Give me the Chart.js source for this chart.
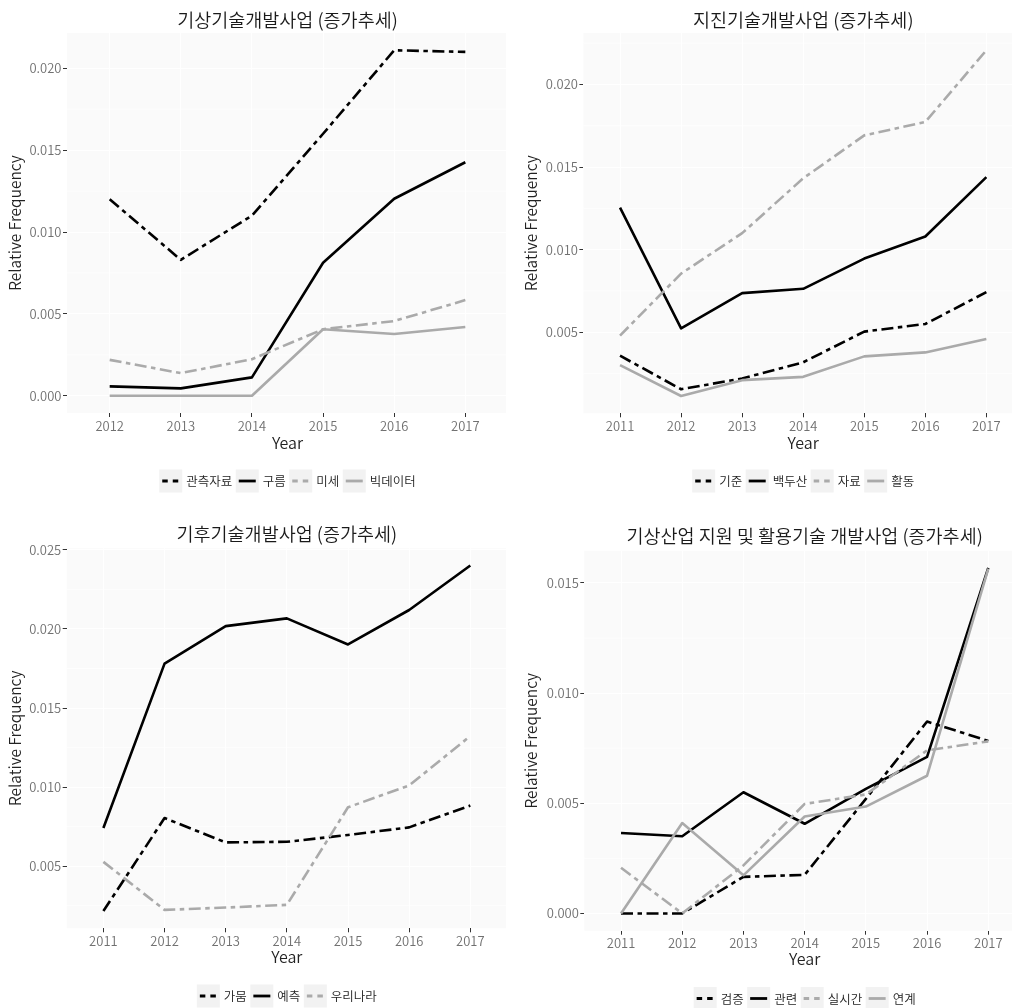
<!DOCTYPE html>
<html>
<head>
<meta charset="utf-8">
<script src="https://cdn.jsdelivr.net/npm/chart.js@4.4.1/dist/chart.umd.min.js"></script>
<style>
  html, body { margin: 0; padding: 0; background: #ffffff; }
  #page { position: relative; width: 1012px; height: 1008px; overflow: hidden; background: #ffffff; }
  .cell { position: absolute; width: 506px; height: 504px; overflow: hidden; }
  .cell canvas { position: absolute; left: 0; top: 0; }
</style>
</head>
<body>
<div id="page">
  <div class="cell" style="left:0px;top:0px"><canvas id="c1" width="508" height="504"></canvas></div>
  <div class="cell" style="left:506px;top:0px"><canvas id="c2" width="517" height="504"></canvas></div>
  <div class="cell" style="left:0px;top:504px"><canvas id="c3" width="507" height="504"></canvas></div>
  <div class="cell" style="left:506px;top:504px"><canvas id="c4" width="519" height="504"></canvas></div>
</div>
<script>
// ---- Years on the x axis ----
const yearsWeather = [2012, 2013, 2014, 2015, 2016, 2017];
const yearsQuake   = [2011, 2012, 2013, 2014, 2015, 2016, 2017];
const yearsClimate = [2011, 2012, 2013, 2014, 2015, 2016, 2017];
const yearsIndustry = [2011, 2012, 2013, 2014, 2015, 2016, 2017];

// ---- 기상기술개발사업 ----
const weatherTitle = '기상기술개발사업 (증가추세)';
const weatherNames = ['관측자료', '구름', '미세', '빅데이터'];
const weatherObs     = [0.0120, 0.0083, 0.0110, 0.0160, 0.0211, 0.0210];
const weatherCloud   = [0.00057, 0.00045, 0.00112, 0.00812, 0.01203, 0.01426];
const weatherDust    = [0.00219, 0.00138, 0.00223, 0.00406, 0.00456, 0.00584];
const weatherBigData = [0, 0, 0, 0.00406, 0.00377, 0.00420];
const weatherTicks   = [0.000, 0.005, 0.010, 0.015, 0.020];

// ---- 지진기술개발사업 ----
const quakeTitle = '지진기술개발사업 (증가추세)';
const quakeNames = ['기준', '백두산', '자료', '활동'];
const quakeStandard = [0.00358, 0.00155, 0.00220, 0.00318, 0.00504, 0.00550, 0.00743];
const quakeBaekdu   = [0.01254, 0.00524, 0.00737, 0.00763, 0.00946, 0.01080, 0.01439];
const quakeData     = [0.00480, 0.00855, 0.01100, 0.01432, 0.01692, 0.01773, 0.02207];
const quakeActivity = [0.00301, 0.00114, 0.00210, 0.00230, 0.00354, 0.00378, 0.00459];
const quakeTicks    = [0.005, 0.010, 0.015, 0.020];

// ---- 기후기술개발사업 ----
const climateTitle = '기후기술개발사업 (증가추세)';
const climateNames = ['가뭄', '예측', '우리나라'];
const climateDrought  = [0.00216, 0.00804, 0.00650, 0.00654, 0.00697, 0.00745, 0.00883];
const climateForecast = [0.00741, 0.01781, 0.02018, 0.02067, 0.01902, 0.02120, 0.02401];
const climateKorea    = [0.00527, 0.00223, 0.00238, 0.00255, 0.00872, 0.01010, 0.01323];
const climateTicks    = [0.005, 0.010, 0.015, 0.020, 0.025];

// ---- 기상산업 지원 및 활용기술 개발사업 ----
const industryTitle = '기상산업 지원 및 활용기술 개발사업 (증가추세)';
const industryNames = ['검증', '관련', '실시간', '연계'];
const industryVerify   = [0, 0, 0.00166, 0.00175, 0.00520, 0.00871, 0.00783];
const industryRelated  = [0.00365, 0.00350, 0.00550, 0.00407, 0.00565, 0.00711, 0.01568];
const industryRealtime = [0.00207, 0, 0.00218, 0.00497, 0.00540, 0.00740, 0.00781];
const industryLinkage  = [0, 0.00410, 0.00173, 0.00440, 0.00485, 0.00625, 0.01565];
const industryTicks    = [0.000, 0.005, 0.010, 0.015];

// ---- Shared look ----
const FONT = '"Noto Sans CJK KR", "Noto Sans", sans-serif';
const W_TEXT = '350';
const GRAY = '#aaaaaa';
const DOTDASH = [12, 4.5, 4.5, 4.5];
const seriesStyles = [
  { color: '#000000', dash: DOTDASH },
  { color: '#000000', dash: [] },
  { color: GRAY, dash: DOTDASH },
  { color: GRAY, dash: [] }
];

function panelPlugin(cfg) {
  return {
    id: 'panelDecor',
    beforeDraw(chart) {
      const a = chart.chartArea, ctx = chart.ctx;
      ctx.save();
      ctx.fillStyle = '#fafafa';
      ctx.fillRect(a.left, a.top, a.right - a.left, a.bottom - a.top);
      ctx.restore();
    },
    beforeDatasetsDraw(chart) {
      // minor horizontal grid lines halfway between labelled ticks
      const a = chart.chartArea, ctx = chart.ctx, ys = chart.scales.y;
      const t = cfg.yTicks, step = t[1] - t[0];
      ctx.save();
      ctx.strokeStyle = '#ffffff';
      ctx.lineWidth = 0.7;
      for (let v = t[0] - step / 2; v <= ys.max; v += step) {
        if (v < ys.min) continue;
        const py = ys.getPixelForValue(v);
        ctx.beginPath();
        ctx.moveTo(a.left, py);
        ctx.lineTo(a.right, py);
        ctx.stroke();
      }
      ctx.restore();
    },
    afterDraw(chart) {
      const a = chart.chartArea, ctx = chart.ctx;
      const cx = (a.left + a.right) / 2;
      ctx.save();
      // title
      ctx.fillStyle = '#1a1a1a';
      ctx.textAlign = 'center';
      ctx.textBaseline = 'middle';
      ctx.font = W_TEXT + ' 18.5px ' + FONT;
      ctx.fillText(cfg.title, cx, cfg.titleY);
      // axis titles
      ctx.fillStyle = '#222222';
      ctx.font = W_TEXT + ' 16px ' + FONT;
      ctx.fillText('Year', cx, cfg.xTitleY);
      ctx.save();
      ctx.translate(cfg.yTitleX, (a.top + a.bottom) / 2);
      ctx.rotate(-Math.PI / 2);
      ctx.font = W_TEXT + ' 15.5px ' + FONT;
      ctx.fillText('Relative Frequency', 0, 0);
      ctx.restore();
      // legend
      ctx.font = W_TEXT + ' 12.5px ' + FONT;
      const key = 23, gapText = 4, gapItem = 3.5;
      const widths = cfg.names.map(n => ctx.measureText(n).width);
      let total = 0;
      widths.forEach((w, i) => { total += key + gapText + w + (i < widths.length - 1 ? gapItem : 0); });
      let x = cx - total / 2;
      const ly = cfg.legendY;
      cfg.names.forEach((n, i) => {
        const st = seriesStyles[i];
        ctx.fillStyle = '#f2f2f2';
        ctx.fillRect(x, ly - key / 2, key, key);
        ctx.strokeStyle = st.color;
        ctx.lineWidth = 2.8;
        ctx.lineCap = 'butt';
        ctx.setLineDash(st.dash.length ? [5.5, 5] : []);
        ctx.beginPath();
        ctx.moveTo(x + 3, ly);
        ctx.lineTo(x + 20, ly);
        ctx.stroke();
        ctx.setLineDash([]);
        ctx.fillStyle = '#222222';
        ctx.textAlign = 'left';
        ctx.textBaseline = 'middle';
        ctx.fillText(n, x + key + gapText, ly + 0.5);
        x += key + gapText + widths[i] + gapItem;
      });
      ctx.restore();
    }
  };
}

function makePanel(id, cfg) {
  const canvas = document.getElementById(id);
  const H = canvas.height;
  const all = cfg.values.flat();
  const lo = Math.min(...all), hi = Math.max(...all);
  const pad = (hi - lo) * 0.05;
  const years = cfg.years;
  const n = cfg.names.length;

  const datasets = cfg.names.map((name, i) => ({
    label: name,
    data: years.map((yr, j) => ({ x: yr, y: cfg.values[i][j] })),
    borderColor: seriesStyles[i].color,
    borderDash: seriesStyles[i].dash,
    borderWidth: 2.6,
    borderCapStyle: 'butt',
    borderJoinStyle: 'round',
    pointRadius: 0,
    fill: false,
    tension: 0,
    order: n - i
  }));

  const tickFont = { family: FONT, size: 13, weight: W_TEXT };
  return new Chart(canvas, {
    type: 'line',
    data: { datasets },
    options: {
      responsive: false,
      animation: false,
      devicePixelRatio: 1,
      events: [],
      layout: { padding: { left: 0, right: 0, top: cfg.top, bottom: 0 } },
      plugins: { legend: { display: false }, tooltip: { enabled: false }, title: { display: false } },
      scales: {
        x: {
          type: 'linear',
          min: years[0] - 0.6,
          max: years[years.length - 1] + 0.6,
          afterBuildTicks: s => { s.ticks = years.map(v => ({ value: v })); },
          afterFit: s => { s.height = H - cfg.bottom; },
          ticks: { callback: v => String(v), color: '#707070', font: tickFont, padding: 1, maxRotation: 0, autoSkip: false },
          grid: { color: '#ffffff', lineWidth: 1, tickColor: '#333333', tickLength: 4, tickWidth: 1 },
          border: { display: false }
        },
        y: {
          type: 'linear',
          min: lo - pad,
          max: hi + pad,
          afterBuildTicks: s => { s.ticks = cfg.yTicks.map(v => ({ value: v })); },
          afterFit: s => { s.width = cfg.left; },
          ticks: { callback: v => Number(v).toFixed(3), color: '#707070', font: tickFont, padding: 1.5, autoSkip: false },
          grid: { color: '#ffffff', lineWidth: 1, tickColor: '#333333', tickLength: 4, tickWidth: 1 },
          border: { display: false }
        }
      }
    },
    plugins: [panelPlugin(cfg)]
  });
}

function build() {
  makePanel('c1', {
    title: weatherTitle, names: weatherNames, years: yearsWeather,
    values: [weatherObs, weatherCloud, weatherDust, weatherBigData], yTicks: weatherTicks,
    left: 67, top: 33, bottom: 413,
    titleY: 20, xTitleY: 443, yTitleX: 15, legendY: 481
  });
  makePanel('c2', {
    title: quakeTitle, names: quakeNames, years: yearsQuake,
    values: [quakeStandard, quakeBaekdu, quakeData, quakeActivity], yTicks: quakeTicks,
    left: 77.4, top: 33, bottom: 413.3,
    titleY: 20, xTitleY: 443, yTitleX: 25, legendY: 481
  });
  makePanel('c3', {
    title: climateTitle, names: climateNames, years: yearsClimate,
    values: [climateDrought, climateForecast, climateKorea], yTicks: climateTicks,
    left: 66.7, top: 44.3, bottom: 424.3,
    titleY: 30, xTitleY: 453, yTitleX: 15, legendY: 492
  });
  makePanel('c4', {
    title: industryTitle, names: industryNames, years: yearsIndustry,
    values: [industryVerify, industryRelated, industryRealtime, industryLinkage], yTicks: industryTicks,
    left: 78.3, top: 46.7, bottom: 426.7,
    titleY: 32, xTitleY: 455, yTitleX: 25, legendY: 494.5
  });
}

const fontLoads = document.fonts && document.fonts.load
  ? Promise.all([
      document.fonts.load(W_TEXT + ' 18.5px "Noto Sans CJK KR"', '기상기술개발사업'),
      document.fonts.load(W_TEXT + ' 13px "Noto Sans CJK KR"', '0.0125 Year')
    ])
  : Promise.resolve();
fontLoads.catch(() => {}).then(build);
</script>
</body>
</html>
